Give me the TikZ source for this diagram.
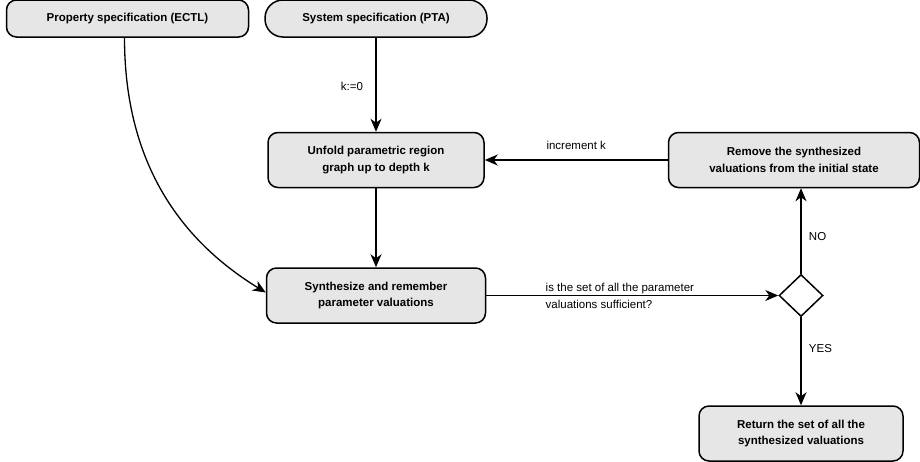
\documentclass[tikz,border=0pt]{standalone}
\usepackage{fontspec}
\setmainfont{Liberation Sans}
\usetikzlibrary{shapes.geometric, arrows.meta, positioning}
\definecolor{boxfill}{HTML}{E6E6E6}
\tikzstyle{block} = [rectangle, rounded corners=10pt, line width=1.5pt, minimum height=55pt, text centered, align=center, draw=black, fill=boxfill, font=\fontsize{11.5}{16.5}\selectfont\bfseries]
\tikzstyle{startstop} = [block, rounded corners=18pt, minimum height=37pt]
\tikzstyle{decision} = [diamond, line width=1.5pt, minimum width=44pt, minimum height=42pt, inner sep=0pt, draw=black, fill=white]
\tikzstyle{arrow} = [line width=1.3pt, -{Stealth[length=13pt, width=11pt, inset=4pt]}]
\tikzstyle{edgetext} = [font=\fontsize{11.5}{17}\selectfont]

\begin{document}
\begin{tikzpicture}[x=1pt, y=-1pt, node distance=10pt, auto]
		\useasboundingbox (0,0) rectangle (920,461);
		\node (SystemSpec) [startstop, minimum width=222pt] at (376,18.5) {System specification (PTA)};
		\node (PropertySpec) [block, minimum width=242pt, minimum height=37pt, left = 15pt of SystemSpec] {Property specification (ECTL)};
		\node (Unfold) [block, minimum width=216pt, below = 94pt of SystemSpec] {Unfold parametric region\\graph up to depth k};
		\node (Synthesize) [block, minimum width=219pt, below = 79pt of Unfold] {Synthesize and remember\\parameter valuations};
		\node (Sufficient) [decision, right = 292pt of Synthesize] {};
		\node (Remove) [block, minimum width=251pt, right = 183pt of Unfold] {Remove the synthesized\\valuations from the initial state};
		\node (Return) [block, minimum width=204pt, below = 88pt of Sufficient] {Return the set of all the\\synthesized valuations};
		\draw [arrow] (SystemSpec) -- node[edgetext, left, pos=0.52, xshift=-9pt] {k:=0} (Unfold);
		\draw [arrow] (Unfold) -- (Synthesize);
		\draw [arrow] ([xshift=-3pt]PropertySpec.south) .. controls +(0,131) and +(-80,-49) .. ([yshift=3pt]Synthesize.west);
		\draw [arrow] (Remove) -- node[edgetext, above, pos=0.5, yshift=6pt] {increment k} (Unfold);
		\draw [arrow] (Synthesize) -- node[edgetext, pos=0.19, anchor=west, align=left] {is the set of all the parameter\\valuations sufficient?} (Sufficient);
		\draw [arrow] (Sufficient.north) -- node[edgetext, right, pos=0.44, xshift=4pt] {NO} (Sufficient.north |- Remove.south);
		\draw [arrow] (Sufficient) -- node[edgetext, right, pos=0.36, xshift=4pt] {YES} (Return);
\end{tikzpicture}
\end{document}
